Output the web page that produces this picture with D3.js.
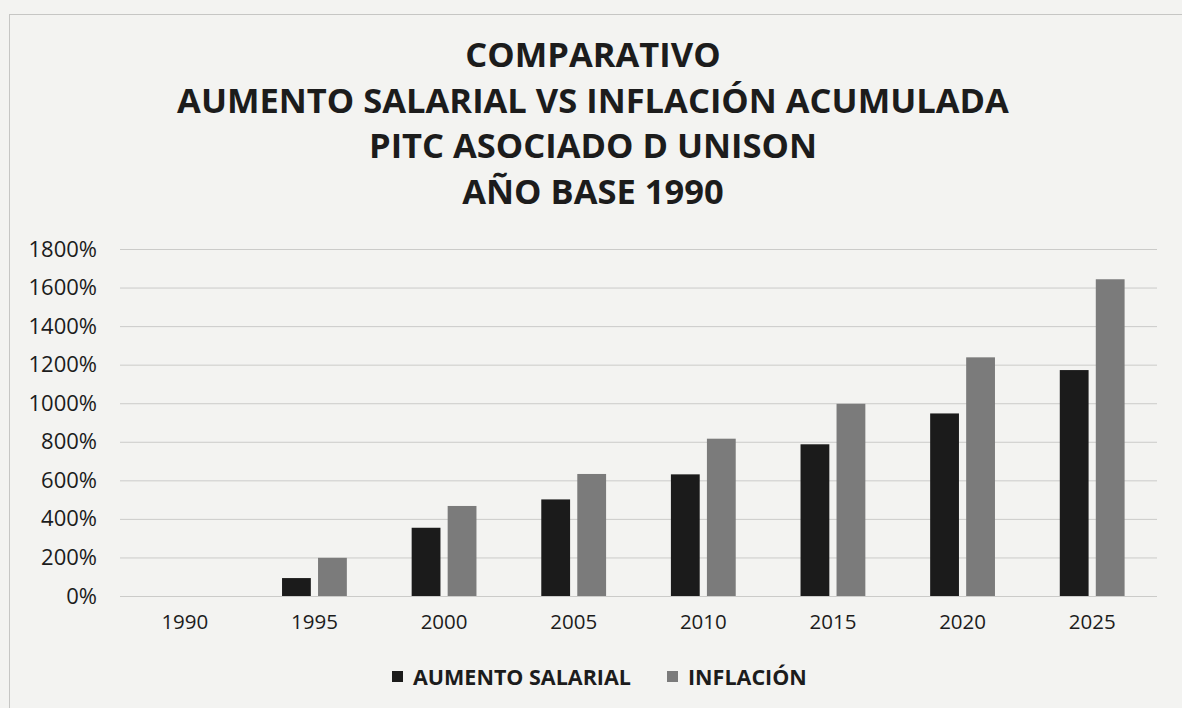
<!DOCTYPE html>
<script src="https://d3js.org/d3.v7.min.js"></script>

<style>
	body { margin: 0; background: #f3f3f1; }
	.chart text { font-family: "Open Sans", Roboto, "Liberation Sans", sans-serif; fill: #1c1c1c; }
	.chart .title { font-weight: bold; font-size: 34.5px; }
	.chart .tick line { stroke: #cbcbc9; }
	.chart .domain { display: none; }
</style>

<html><body>
<svg class="chart"></svg>

<script>
var W = 1182, H = 708;

var years = ["1990","1995","2000","2005","2010","2015","2020","2025"];
var aumento = [0, 93, 354, 501, 631, 787, 947, 1172];
var inflacion = [0, 198, 467, 633, 816, 997, 1238, 1643];
var series = ["AUMENTO SALARIAL", "INFLACIÓN"];
var colors = ["#1b1b1b", "#7b7b7b"];
var yTicks = [0,200,400,600,800,1000,1200,1400,1600,1800];
var titleLines = ["COMPARATIVO", "AUMENTO SALARIAL VS INFLACIÓN ACUMULADA", "PITC ASOCIADO D UNISON", "AÑO BASE 1990"];

var plotLeft = 120, plotRight = 1157, plotTop = 249, plotBottom = 596;

var chart = d3.select(".chart").attr("width", W).attr("height", H);

// frame
chart.append("rect")
	.attr("x", 9.5).attr("y", 14.5)
	.attr("width", W).attr("height", H)
	.attr("fill", "none").attr("stroke", "#c6c6c4");

// title
chart.selectAll(".title")
	.data(titleLines)
	.enter().append("text")
	.attr("class", "title")
	.attr("x", 593)
	.attr("y", function(d,i) { return 67 + i*45.5; })
	.attr("text-anchor", "middle")
	.text(function(d) { return d; });

var x = d3.scaleBand().domain(years).range([plotLeft, plotRight]);
var x1 = d3.scaleBand().domain([0,1]).range([x.bandwidth()*0.25, x.bandwidth()*0.75]).paddingInner(0.2);
var y = d3.scaleLinear().domain([0,1800]).range([plotBottom, plotTop]);

// grid + y axis
var yAxis = chart.append("g")
	.attr("transform", "translate(" + plotLeft + ",0)")
	.call(d3.axisLeft(y).tickValues(yTicks).tickSize(-(plotRight-plotLeft)).tickPadding(23)
		.tickFormat(function(d) { return d + "%"; }));
yAxis.selectAll("text").style("font-size", "22px");

// bars
var g = chart.append("g");
var data = years.map(function(yr, i) { return { year: yr, vals: [aumento[i], inflacion[i]] }; });
g.selectAll("g")
	.data(data)
	.enter().append("g")
	.attr("transform", function(d) { return "translate(" + x(d.year) + ",0)"; })
	.selectAll("rect")
	.data(function(d) { return d.vals; })
	.enter().append("rect")
	.attr("x", function(d,i) { return x1(i); })
	.attr("width", x1.bandwidth())
	.attr("y", function(d) { return y(d); })
	.attr("height", function(d) { return plotBottom - y(d); })
	.attr("fill", function(d,i) { return colors[i]; });

// x axis
var xAxis = chart.append("g")
	.attr("transform", "translate(0," + plotBottom + ")")
	.call(d3.axisBottom(x).tickSize(0).tickPadding(18));
xAxis.selectAll("text").style("font-size", "20.5px");

// legend
var legX = [392, 667];
var leg = chart.selectAll(".leg")
	.data(series)
	.enter().append("g")
	.attr("class", "leg")
	.attr("transform", function(d,i) { return "translate(" + legX[i] + ",677)"; });
leg.append("rect")
	.attr("x", 0).attr("y", -6).attr("width", 11).attr("height", 11)
	.attr("fill", function(d,i) { return colors[i]; });
leg.append("text")
	.attr("x", 21).attr("y", 7.5)
	.style("font-size", "21.5px").style("font-weight", "bold")
	.text(function(d) { return d; });
</script>

</body></html>
